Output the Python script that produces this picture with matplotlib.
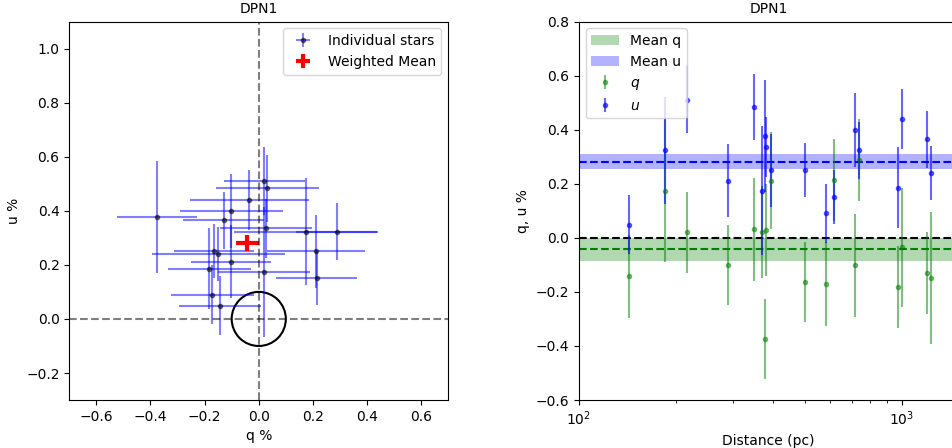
import matplotlib
matplotlib.use('Agg')
import matplotlib.pyplot as plt
import numpy as np

# star data
dist = [143, 185, 217, 290, 348, 368, 377, 381, 394, 500, 584, 615, 716, 736, 975, 1005, 1197, 1233]
q = [-0.143, 0.175, 0.020, -0.102, 0.032, 0.020, -0.375, 0.028, 0.211, -0.165,
     -0.171, 0.214, -0.102, 0.288, -0.182, -0.035, -0.130, -0.149]
q_err = [0.153, 0.265, 0.150, 0.148, 0.190, 0.170, 0.147, 0.170, 0.180, 0.148,
         0.155, 0.150, 0.190, 0.150, 0.153, 0.220, 0.150, 0.245]
u = [0.049, 0.323, 0.511, 0.211, 0.483, 0.175, 0.376, 0.335, 0.250, 0.250,
     0.090, 0.150, 0.400, 0.323, 0.185, 0.439, 0.365, 0.239]
u_err = [0.110, 0.197, 0.125, 0.135, 0.123, 0.240, 0.207, 0.110, 0.135, 0.100,
         0.110, 0.100, 0.137, 0.105, 0.150, 0.110, 0.105, 0.100]

q_mean, q_mean_err = -0.042, 0.043
u_mean, u_mean_err = 0.282, 0.029
name = 'DPN1'

plt.rcParams['font.size'] = 10
fig = plt.figure(figsize=(9.52, 4.48), dpi=100)

# q-u plane
ax1 = fig.add_axes([0.0728, 0.107, 0.398, 0.845])
ax1.errorbar(q, u, xerr=q_err, yerr=u_err, fmt='.', color='k', ecolor='b',
             alpha=0.5, label='Individual stars')
ax1.errorbar(q_mean, u_mean, xerr=q_mean_err, yerr=u_mean_err, fmt='none',
             ecolor='r', elinewidth=3, label='Weighted Mean')
ax1.axhline(0, color='k', ls='--', alpha=0.5)
ax1.axvline(0, color='k', ls='--', alpha=0.5)
ax1.add_patch(plt.Circle((0, 0), 0.1, fill=False, color='k', lw=1.5))
ax1.set_xlim(-0.7, 0.7)
ax1.set_ylim(-0.3, 1.1)
ax1.set_xlabel('q %')
ax1.set_ylabel('u %')
ax1.set_title(name, fontsize=10)
ax1.legend(loc='upper right')

# q, u vs distance
ax2 = fig.add_axes([0.608, 0.107, 0.399, 0.845])
ax2.axhspan(q_mean - q_mean_err, q_mean + q_mean_err, color='g', alpha=0.3, lw=0, label='Mean q')
ax2.axhspan(u_mean - u_mean_err, u_mean + u_mean_err, color='b', alpha=0.3, lw=0, label='Mean u')
ax2.axhline(q_mean, color='g', ls='--')
ax2.axhline(u_mean, color='b', ls='--')
ax2.axhline(0, color='k', ls='--')
ax2.errorbar(dist, q, yerr=q_err, fmt='.', color='g', alpha=0.5, label='$q$')
ax2.errorbar(dist, u, yerr=u_err, fmt='.', color='b', alpha=0.6, label='$u$')
ax2.set_xscale('log')
ax2.set_xlim(100, 1500)
ax2.set_ylim(-0.6, 0.8)
ax2.set_xlabel('Distance (pc)')
ax2.set_ylabel('q, u %')
ax2.set_title(name, fontsize=10)
ax2.legend(loc='upper left')

fig.savefig('out.png', dpi=100)
